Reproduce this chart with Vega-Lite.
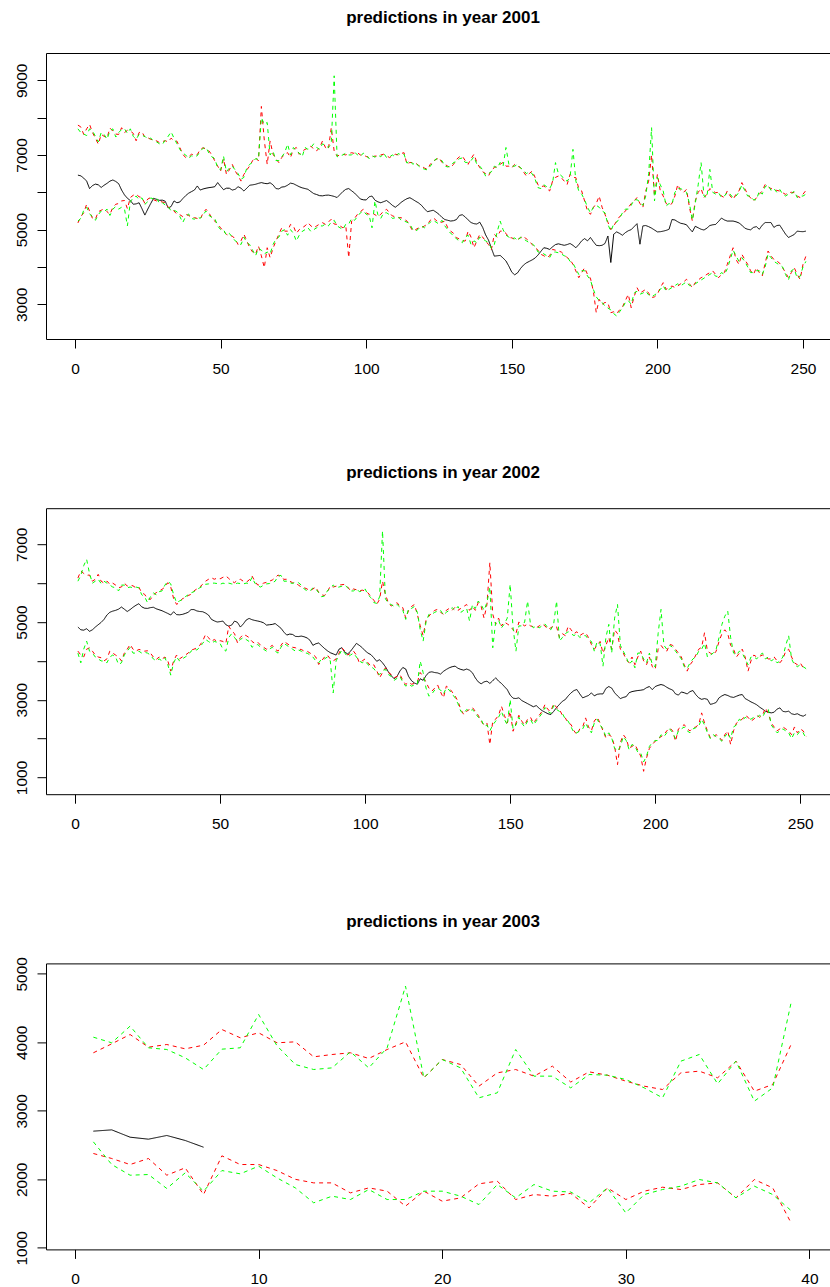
{
"$schema": "https://vega.github.io/schema/vega-lite/v6.json",
"padding": {"left": 13, "top": 9, "right": 0, "bottom": 0},
"autosize": {"type": "pad"},
"bounds": "flush",
"spacing": 169.2,
"config": {
  "view": {"stroke": null},
  "axis": {"grid": false, "domainColor": "#000000", "domainWidth": 1, "tickColor": "#000000", "tickWidth": 1, "labelColor": "#000000", "labelFont": "Liberation Sans", "labelFontSize": 15.5, "tickSize": 9},
  "title": {"font": "Liberation Sans", "fontSize": 17, "fontWeight": "bold", "color": "#000000", "offset": 26, "frame": "group", "anchor": "middle", "dx": 5}
},
"datasets": {
"p1": [
{"x":1,"a":6460,"ru":7800,"gu":7700,"rl":5180,"gl":5230},
{"x":2,"a":6440,"ru":7750,"gu":7600,"rl":5350,"gl":5300},
{"x":3,"a":6380,"ru":7550,"gu":7560,"rl":5450,"gl":5520},
{"x":4,"a":6300,"ru":7700,"gu":7520,"rl":5680,"gl":5600},
{"x":5,"a":6100,"ru":7820,"gu":7700,"rl":5500,"gl":5420},
{"x":6,"a":6180,"ru":7600,"gu":7650,"rl":5300,"gl":5350},
{"x":7,"a":6220,"ru":7450,"gu":7500,"rl":5280,"gl":5250},
{"x":8,"a":6200,"ru":7290,"gu":7350,"rl":5480,"gl":5400},
{"x":9,"a":6130,"ru":7550,"gu":7600,"rl":5520,"gl":5500},
{"x":10,"a":6190,"ru":7500,"gu":7550,"rl":5560,"gl":5480},
{"x":11,"a":6240,"ru":7460,"gu":7420,"rl":5480,"gl":5550},
{"x":12,"a":6300,"ru":7720,"gu":7650,"rl":5410,"gl":5380},
{"x":13,"a":6330,"ru":7640,"gu":7700,"rl":5600,"gl":5550},
{"x":14,"a":6290,"ru":7560,"gu":7480,"rl":5680,"gl":5620},
{"x":15,"a":6230,"ru":7550,"gu":7600,"rl":5700,"gl":5550},
{"x":16,"a":6060,"ru":7730,"gu":7680,"rl":5770,"gl":5600},
{"x":17,"a":5930,"ru":7600,"gu":7700,"rl":5780,"gl":5550},
{"x":18,"a":5840,"ru":7660,"gu":7580,"rl":5560,"gl":5100},
{"x":19,"a":5780,"ru":7640,"gu":7700,"rl":5860,"gl":5750},
{"x":20,"a":5680,"ru":7580,"gu":7500,"rl":5920,"gl":5850},
{"x":21,"a":5690,"ru":7380,"gu":7420,"rl":5950,"gl":5900},
{"x":22,"a":5720,"ru":7600,"gu":7550,"rl":5880,"gl":5800},
{"x":23,"a":5560,"ru":7620,"gu":7520,"rl":5860,"gl":5850},
{"x":24,"a":5390,"ru":7470,"gu":7500,"rl":5700,"gl":5680},
{"x":25,"a":5550,"ru":7460,"gu":7420,"rl":5820,"gl":5750},
{"x":26,"a":5700,"ru":7420,"gu":7450,"rl":5860,"gl":5850},
{"x":27,"a":5840,"ru":7400,"gu":7380,"rl":5800,"gl":5820},
{"x":28,"a":5810,"ru":7380,"gu":7350,"rl":5770,"gl":5850},
{"x":29,"a":5785,"ru":7330,"gu":7300,"rl":5760,"gl":5700},
{"x":30,"a":5790,"ru":7360,"gu":7280,"rl":5740,"gl":5720},
{"x":31,"a":5760,"ru":7380,"gu":7400,"rl":5720,"gl":5660},
{"x":32,"a":5580,"ru":7350,"gu":7500,"rl":5600,"gl":5620},
{"x":33,"a":5620,"ru":7450,"gu":7620,"rl":5560,"gl":5500},
{"x":34,"a":5770,"ru":7380,"gu":7450,"rl":5500,"gl":5520},
{"x":35,"a":5720,"ru":7370,"gu":7300,"rl":5410,"gl":5480},
{"x":36,"a":5740,"ru":7200,"gu":7150,"rl":5400,"gl":5350},
{"x":37,"a":5830,"ru":7020,"gu":7050,"rl":5350,"gl":5190},
{"x":38,"a":5910,"ru":6930,"gu":7000,"rl":5410,"gl":5350},
{"x":39,"a":5975,"ru":6950,"gu":6900,"rl":5380,"gl":5420},
{"x":40,"a":6018,"ru":7020,"gu":6980,"rl":5330,"gl":5300},
{"x":41,"a":6060,"ru":7000,"gu":6950,"rl":5320,"gl":5280},
{"x":42,"a":6170,"ru":7010,"gu":6980,"rl":5300,"gl":5350},
{"x":43,"a":6060,"ru":7150,"gu":7100,"rl":5280,"gl":5300},
{"x":44,"a":6090,"ru":7195,"gu":7180,"rl":5450,"gl":5400},
{"x":45,"a":6110,"ru":7150,"gu":7200,"rl":5545,"gl":5500},
{"x":46,"a":6125,"ru":7110,"gu":7050,"rl":5450,"gl":5380},
{"x":47,"a":6135,"ru":7000,"gu":6950,"rl":5300,"gl":5330},
{"x":48,"a":6150,"ru":6840,"gu":6900,"rl":5230,"gl":5300},
{"x":49,"a":6260,"ru":6700,"gu":6650,"rl":5150,"gl":5100},
{"x":50,"a":6160,"ru":6570,"gu":6600,"rl":5050,"gl":5000},
{"x":51,"a":6070,"ru":6900,"gu":6970,"rl":4950,"gl":5000},
{"x":52,"a":6110,"ru":6480,"gu":6550,"rl":4875,"gl":4850},
{"x":53,"a":6110,"ru":6600,"gu":6650,"rl":4830,"gl":4900},
{"x":54,"a":6060,"ru":6750,"gu":6700,"rl":4830,"gl":4800},
{"x":55,"a":6080,"ru":6570,"gu":6600,"rl":4750,"gl":4700},
{"x":56,"a":6150,"ru":6450,"gu":6500,"rl":4605,"gl":4650},
{"x":57,"a":6110,"ru":6300,"gu":6350,"rl":4700,"gl":4600},
{"x":58,"a":6035,"ru":6480,"gu":6400,"rl":4875,"gl":4800},
{"x":59,"a":6110,"ru":6600,"gu":6650,"rl":4700,"gl":4650},
{"x":60,"a":6190,"ru":6705,"gu":6750,"rl":4515,"gl":4600},
{"x":61,"a":6200,"ru":6850,"gu":6800,"rl":4400,"gl":4450},
{"x":62,"a":6215,"ru":6930,"gu":6900,"rl":4340,"gl":4300},
{"x":63,"a":6240,"ru":6840,"gu":6880,"rl":4560,"gl":4500},
{"x":64,"a":6260,"ru":8300,"gu":8000,"rl":4300,"gl":4450},
{"x":65,"a":6240,"ru":7400,"gu":7820,"rl":3980,"gl":4350},
{"x":66,"a":6230,"ru":6750,"gu":7870,"rl":4515,"gl":4400},
{"x":67,"a":6255,"ru":7375,"gu":7000,"rl":4250,"gl":4350},
{"x":68,"a":6200,"ru":7020,"gu":7100,"rl":4500,"gl":4600},
{"x":69,"a":6100,"ru":6900,"gu":6850,"rl":4695,"gl":4750},
{"x":70,"a":6090,"ru":6795,"gu":6850,"rl":4875,"gl":4800},
{"x":71,"a":6140,"ru":6930,"gu":6950,"rl":5050,"gl":4960},
{"x":72,"a":6150,"ru":7020,"gu":7060,"rl":4960,"gl":5000},
{"x":73,"a":6190,"ru":7062,"gu":7290,"rl":4960,"gl":4850},
{"x":74,"a":6245,"ru":6930,"gu":7000,"rl":5140,"gl":5000},
{"x":75,"a":6230,"ru":7150,"gu":7200,"rl":5100,"gl":4900},
{"x":76,"a":6190,"ru":7200,"gu":7100,"rl":4900,"gl":4695},
{"x":77,"a":6150,"ru":7020,"gu":7050,"rl":5000,"gl":4850},
{"x":78,"a":6120,"ru":7100,"gu":6950,"rl":5050,"gl":4950},
{"x":79,"a":6100,"ru":7150,"gu":7200,"rl":5100,"gl":5000},
{"x":80,"a":6080,"ru":7180,"gu":7150,"rl":5187,"gl":5050},
{"x":81,"a":6020,"ru":7240,"gu":7200,"rl":5100,"gl":4950},
{"x":82,"a":5965,"ru":7150,"gu":7300,"rl":5050,"gl":5000},
{"x":83,"a":5940,"ru":7110,"gu":7200,"rl":5100,"gl":5050},
{"x":84,"a":5910,"ru":7200,"gu":7150,"rl":5150,"gl":5100},
{"x":85,"a":5905,"ru":7375,"gu":7300,"rl":5187,"gl":5100},
{"x":86,"a":5920,"ru":7200,"gu":7250,"rl":5140,"gl":5150},
{"x":87,"a":5925,"ru":7150,"gu":7200,"rl":5200,"gl":5100},
{"x":88,"a":5910,"ru":7730,"gu":7300,"rl":5280,"gl":5200},
{"x":89,"a":5890,"ru":7100,"gu":9120,"rl":5150,"gl":5250},
{"x":90,"a":5860,"ru":6970,"gu":6950,"rl":5140,"gl":5100},
{"x":91,"a":5940,"ru":7000,"gu":6980,"rl":5100,"gl":5050},
{"x":92,"a":6020,"ru":7020,"gu":7000,"rl":5050,"gl":5000},
{"x":93,"a":6080,"ru":7000,"gu":7050,"rl":5100,"gl":5150},
{"x":94,"a":6100,"ru":7040,"gu":7000,"rl":4250,"gl":5150},
{"x":95,"a":6040,"ru":7060,"gu":7000,"rl":5230,"gl":5300},
{"x":96,"a":5980,"ru":7040,"gu":7080,"rl":5300,"gl":5250},
{"x":97,"a":5900,"ru":7060,"gu":7000,"rl":5410,"gl":5350},
{"x":98,"a":5820,"ru":7000,"gu":6960,"rl":5480,"gl":5450},
{"x":99,"a":5800,"ru":7000,"gu":7050,"rl":5545,"gl":5500},
{"x":100,"a":5795,"ru":6960,"gu":7000,"rl":5450,"gl":5410},
{"x":101,"a":5880,"ru":6930,"gu":6900,"rl":5410,"gl":5380},
{"x":102,"a":5900,"ru":6950,"gu":6980,"rl":5450,"gl":5050},
{"x":103,"a":5790,"ru":6970,"gu":6940,"rl":5400,"gl":5770},
{"x":104,"a":5745,"ru":6970,"gu":7000,"rl":5350,"gl":5400},
{"x":105,"a":5720,"ru":7000,"gu":6950,"rl":5410,"gl":5300},
{"x":106,"a":5750,"ru":7020,"gu":7050,"rl":5500,"gl":5450},
{"x":107,"a":5780,"ru":6980,"gu":6930,"rl":5545,"gl":5450},
{"x":108,"a":5720,"ru":6930,"gu":6950,"rl":5450,"gl":5400},
{"x":109,"a":5650,"ru":6980,"gu":7000,"rl":5365,"gl":5300},
{"x":110,"a":5600,"ru":7020,"gu":6950,"rl":5350,"gl":5320},
{"x":111,"a":5660,"ru":7000,"gu":7040,"rl":5320,"gl":5350},
{"x":112,"a":5730,"ru":7040,"gu":7000,"rl":5320,"gl":5250},
{"x":113,"a":5785,"ru":7060,"gu":7020,"rl":5280,"gl":5230},
{"x":114,"a":5830,"ru":6750,"gu":6780,"rl":5230,"gl":5200},
{"x":115,"a":5855,"ru":6800,"gu":6850,"rl":5100,"gl":5150},
{"x":116,"a":5810,"ru":6795,"gu":6750,"rl":4960,"gl":5000},
{"x":117,"a":5760,"ru":6780,"gu":6800,"rl":5000,"gl":4960},
{"x":118,"a":5715,"ru":6720,"gu":6700,"rl":5050,"gl":5020},
{"x":119,"a":5650,"ru":6700,"gu":6650,"rl":5050,"gl":5100},
{"x":120,"a":5560,"ru":6650,"gu":6620,"rl":5100,"gl":5050},
{"x":121,"a":5480,"ru":6615,"gu":6600,"rl":5140,"gl":5120},
{"x":122,"a":5500,"ru":6750,"gu":6700,"rl":5250,"gl":5200},
{"x":123,"a":5520,"ru":6840,"gu":6800,"rl":5320,"gl":5250},
{"x":124,"a":5470,"ru":6880,"gu":6900,"rl":5250,"gl":5200},
{"x":125,"a":5410,"ru":6930,"gu":6850,"rl":5190,"gl":5150},
{"x":126,"a":5330,"ru":6800,"gu":6850,"rl":5200,"gl":5250},
{"x":127,"a":5270,"ru":6750,"gu":6700,"rl":5230,"gl":5100},
{"x":128,"a":5250,"ru":6700,"gu":6680,"rl":5050,"gl":5000},
{"x":129,"a":5230,"ru":6660,"gu":6700,"rl":4960,"gl":4900},
{"x":130,"a":5240,"ru":6750,"gu":6800,"rl":4900,"gl":4850},
{"x":131,"a":5270,"ru":6880,"gu":6820,"rl":4785,"gl":4750},
{"x":132,"a":5380,"ru":6950,"gu":6900,"rl":4750,"gl":4700},
{"x":133,"a":5400,"ru":6970,"gu":6920,"rl":4700,"gl":4650},
{"x":134,"a":5340,"ru":6850,"gu":6800,"rl":4695,"gl":4800},
{"x":135,"a":5260,"ru":6750,"gu":6800,"rl":4960,"gl":4850},
{"x":136,"a":5190,"ru":6900,"gu":6850,"rl":4800,"gl":4600},
{"x":137,"a":5160,"ru":7020,"gu":6950,"rl":4515,"gl":4700},
{"x":138,"a":5150,"ru":6800,"gu":6750,"rl":4700,"gl":4650},
{"x":139,"a":5200,"ru":6660,"gu":6700,"rl":4875,"gl":4800},
{"x":140,"a":5060,"ru":6550,"gu":6600,"rl":4800,"gl":4750},
{"x":141,"a":4860,"ru":6500,"gu":6435,"rl":4695,"gl":4700},
{"x":142,"a":4720,"ru":6435,"gu":6500,"rl":4600,"gl":4650},
{"x":143,"a":4500,"ru":6600,"gu":6550,"rl":4470,"gl":4500},
{"x":144,"a":4290,"ru":6660,"gu":6700,"rl":4875,"gl":4600},
{"x":145,"a":4300,"ru":6700,"gu":6650,"rl":4800,"gl":4950},
{"x":146,"a":4310,"ru":6750,"gu":6800,"rl":4960,"gl":5230},
{"x":147,"a":4240,"ru":6800,"gu":6700,"rl":4960,"gl":5000},
{"x":148,"a":4160,"ru":6700,"gu":7200,"rl":4900,"gl":4850},
{"x":149,"a":4020,"ru":6700,"gu":6750,"rl":4785,"gl":4800},
{"x":150,"a":3860,"ru":6650,"gu":6700,"rl":4780,"gl":4750},
{"x":151,"a":3790,"ru":6750,"gu":6700,"rl":4740,"gl":4780},
{"x":152,"a":3845,"ru":6700,"gu":6750,"rl":4740,"gl":4700},
{"x":153,"a":3960,"ru":6660,"gu":6650,"rl":4780,"gl":4800},
{"x":154,"a":4050,"ru":6550,"gu":6600,"rl":4830,"gl":4750},
{"x":155,"a":4110,"ru":6435,"gu":6500,"rl":4750,"gl":4700},
{"x":156,"a":4150,"ru":6500,"gu":6550,"rl":4695,"gl":4650},
{"x":157,"a":4190,"ru":6570,"gu":6500,"rl":4600,"gl":4620},
{"x":158,"a":4240,"ru":6400,"gu":6350,"rl":4515,"gl":4550},
{"x":159,"a":4320,"ru":6200,"gu":6125,"rl":4450,"gl":4400},
{"x":160,"a":4420,"ru":6150,"gu":6100,"rl":4340,"gl":4400},
{"x":161,"a":4515,"ru":6170,"gu":6200,"rl":4300,"gl":4350},
{"x":162,"a":4500,"ru":6100,"gu":6150,"rl":4250,"gl":4300},
{"x":163,"a":4470,"ru":6035,"gu":6100,"rl":4300,"gl":4250},
{"x":164,"a":4540,"ru":6300,"gu":6250,"rl":4470,"gl":4400},
{"x":165,"a":4600,"ru":6400,"gu":6795,"rl":4450,"gl":4400},
{"x":166,"a":4620,"ru":6435,"gu":6500,"rl":4430,"gl":4380},
{"x":167,"a":4600,"ru":6392,"gu":6450,"rl":4400,"gl":4350},
{"x":168,"a":4580,"ru":6300,"gu":6350,"rl":4330,"gl":4300},
{"x":169,"a":4600,"ru":6210,"gu":6300,"rl":4250,"gl":4280},
{"x":170,"a":4630,"ru":6480,"gu":6400,"rl":4200,"gl":4150},
{"x":171,"a":4580,"ru":6400,"gu":7150,"rl":4070,"gl":4100},
{"x":172,"a":4515,"ru":6392,"gu":6300,"rl":3893,"gl":3950},
{"x":173,"a":4600,"ru":6100,"gu":6035,"rl":3713,"gl":3800},
{"x":174,"a":4700,"ru":6035,"gu":5950,"rl":3850,"gl":3900},
{"x":175,"a":4760,"ru":5767,"gu":5800,"rl":3980,"gl":3900},
{"x":176,"a":4700,"ru":5500,"gu":5600,"rl":3800,"gl":3758},
{"x":177,"a":4790,"ru":5410,"gu":5450,"rl":3700,"gl":3650},
{"x":178,"a":4680,"ru":5590,"gu":5600,"rl":3355,"gl":3400},
{"x":179,"a":4580,"ru":5700,"gu":5650,"rl":2776,"gl":3200},
{"x":180,"a":4570,"ru":5900,"gu":5600,"rl":3133,"gl":3100},
{"x":181,"a":4580,"ru":5600,"gu":5500,"rl":3000,"gl":3050},
{"x":182,"a":4630,"ru":5410,"gu":5450,"rl":3050,"gl":2950},
{"x":183,"a":4830,"ru":5200,"gu":5140,"rl":3040,"gl":2900},
{"x":184,"a":4120,"ru":5000,"gu":4960,"rl":2776,"gl":2850},
{"x":185,"a":4880,"ru":5100,"gu":5150,"rl":2800,"gl":2750},
{"x":186,"a":4940,"ru":5230,"gu":5200,"rl":2750,"gl":2687},
{"x":187,"a":4900,"ru":5350,"gu":5300,"rl":2850,"gl":2800},
{"x":188,"a":4850,"ru":5410,"gu":5450,"rl":2930,"gl":2900},
{"x":189,"a":4920,"ru":5500,"gu":5550,"rl":3100,"gl":3050},
{"x":190,"a":4970,"ru":5590,"gu":5550,"rl":3267,"gl":3100},
{"x":191,"a":5000,"ru":5700,"gu":5650,"rl":2910,"gl":3000},
{"x":192,"a":5080,"ru":5767,"gu":5800,"rl":3200,"gl":3300},
{"x":193,"a":5160,"ru":5860,"gu":5800,"rl":3445,"gl":3350},
{"x":194,"a":4610,"ru":5700,"gu":5750,"rl":3300,"gl":3270},
{"x":195,"a":5100,"ru":5590,"gu":5650,"rl":3350,"gl":3300},
{"x":196,"a":5110,"ru":6035,"gu":5900,"rl":3400,"gl":3350},
{"x":197,"a":5080,"ru":6300,"gu":6500,"rl":3300,"gl":3250},
{"x":198,"a":5040,"ru":7000,"gu":7730,"rl":3178,"gl":3200},
{"x":199,"a":4990,"ru":5900,"gu":5767,"rl":3200,"gl":3250},
{"x":200,"a":4940,"ru":6480,"gu":6400,"rl":3267,"gl":3300},
{"x":201,"a":4945,"ru":6035,"gu":6200,"rl":3450,"gl":3400},
{"x":202,"a":4960,"ru":5900,"gu":6035,"rl":3580,"gl":3500},
{"x":203,"a":4980,"ru":5700,"gu":5635,"rl":3400,"gl":3355},
{"x":204,"a":5010,"ru":5650,"gu":5700,"rl":3450,"gl":3400},
{"x":205,"a":5270,"ru":5700,"gu":5680,"rl":3490,"gl":3450},
{"x":206,"a":5260,"ru":5900,"gu":6000,"rl":3450,"gl":3500},
{"x":207,"a":5210,"ru":6210,"gu":6100,"rl":3490,"gl":3550},
{"x":208,"a":5170,"ru":6035,"gu":6100,"rl":3550,"gl":3490},
{"x":209,"a":5155,"ru":6000,"gu":6050,"rl":3600,"gl":3550},
{"x":210,"a":5130,"ru":6080,"gu":6000,"rl":3670,"gl":3600},
{"x":211,"a":5030,"ru":5600,"gu":5700,"rl":3550,"gl":3500},
{"x":212,"a":4940,"ru":5230,"gu":5250,"rl":3445,"gl":3500},
{"x":213,"a":5090,"ru":5770,"gu":5700,"rl":3580,"gl":3550},
{"x":214,"a":5050,"ru":6000,"gu":6200,"rl":3650,"gl":3600},
{"x":215,"a":5010,"ru":6100,"gu":6795,"rl":3713,"gl":3650},
{"x":216,"a":4990,"ru":5860,"gu":5900,"rl":3750,"gl":3700},
{"x":217,"a":5040,"ru":5950,"gu":5860,"rl":3803,"gl":3750},
{"x":218,"a":5110,"ru":6100,"gu":6615,"rl":3850,"gl":3800},
{"x":219,"a":5130,"ru":6035,"gu":6000,"rl":3893,"gl":3850},
{"x":220,"a":5140,"ru":5990,"gu":5950,"rl":3800,"gl":3750},
{"x":221,"a":5220,"ru":6000,"gu":5990,"rl":3713,"gl":3750},
{"x":222,"a":5310,"ru":5900,"gu":5860,"rl":3800,"gl":3850},
{"x":223,"a":5260,"ru":5860,"gu":5900,"rl":3850,"gl":3800},
{"x":224,"a":5230,"ru":6035,"gu":6000,"rl":4070,"gl":3950},
{"x":225,"a":5230,"ru":5900,"gu":5950,"rl":4300,"gl":4200},
{"x":226,"a":5230,"ru":5810,"gu":5850,"rl":4515,"gl":4450},
{"x":227,"a":5210,"ru":5950,"gu":5900,"rl":4200,"gl":4300},
{"x":228,"a":5180,"ru":6035,"gu":6000,"rl":4070,"gl":4150},
{"x":229,"a":5120,"ru":6260,"gu":6200,"rl":4340,"gl":4250},
{"x":230,"a":5040,"ru":6100,"gu":6050,"rl":4200,"gl":4150},
{"x":231,"a":5010,"ru":5945,"gu":5900,"rl":4070,"gl":4000},
{"x":232,"a":4995,"ru":5850,"gu":5900,"rl":3900,"gl":3850},
{"x":233,"a":5060,"ru":5767,"gu":5800,"rl":3803,"gl":3850},
{"x":234,"a":5080,"ru":5850,"gu":5800,"rl":3980,"gl":3900},
{"x":235,"a":5010,"ru":5950,"gu":6035,"rl":3850,"gl":3900},
{"x":236,"a":5120,"ru":6035,"gu":5950,"rl":3758,"gl":3800},
{"x":237,"a":5190,"ru":6210,"gu":6150,"rl":4100,"gl":4000},
{"x":238,"a":5190,"ru":6150,"gu":6200,"rl":4428,"gl":4350},
{"x":239,"a":5190,"ru":6100,"gu":6050,"rl":4300,"gl":4250},
{"x":240,"a":5060,"ru":6080,"gu":6100,"rl":4200,"gl":4150},
{"x":241,"a":5110,"ru":6050,"gu":6000,"rl":4160,"gl":4100},
{"x":242,"a":5120,"ru":6035,"gu":6080,"rl":4100,"gl":4050},
{"x":243,"a":5000,"ru":5990,"gu":5950,"rl":3980,"gl":4000},
{"x":244,"a":4880,"ru":5945,"gu":5900,"rl":3850,"gl":3800},
{"x":245,"a":4790,"ru":5990,"gu":5950,"rl":3713,"gl":3650},
{"x":246,"a":4830,"ru":6000,"gu":5950,"rl":3850,"gl":3900},
{"x":247,"a":4870,"ru":5990,"gu":6035,"rl":3980,"gl":3950},
{"x":248,"a":4960,"ru":5900,"gu":5860,"rl":3800,"gl":3700},
{"x":249,"a":4950,"ru":5860,"gu":5900,"rl":3670,"gl":3750},
{"x":250,"a":4945,"ru":5950,"gu":5900,"rl":4070,"gl":4000},
{"x":251,"a":4960,"ru":6050,"gu":5950,"rl":4294,"gl":4150}
],
"p2": [
{"x":1,"a":4870,"ru":6130,"gu":6050,"rl":4251,"gl":4200},
{"x":2,"a":4800,"ru":6313,"gu":6200,"rl":4150,"gl":3950},
{"x":3,"a":4790,"ru":6250,"gu":6450,"rl":4100,"gl":4300},
{"x":4,"a":4827,"ru":6200,"gu":6613,"rl":4300,"gl":4509},
{"x":5,"a":4760,"ru":6210,"gu":6250,"rl":4337,"gl":4250},
{"x":6,"a":4800,"ru":6050,"gu":6000,"rl":4250,"gl":4200},
{"x":7,"a":4870,"ru":6100,"gu":6050,"rl":4148,"gl":4100},
{"x":8,"a":4930,"ru":6227,"gu":6100,"rl":4100,"gl":4050},
{"x":9,"a":4990,"ru":6050,"gu":5990,"rl":4080,"gl":4000},
{"x":10,"a":5067,"ru":6000,"gu":6050,"rl":4000,"gl":3993},
{"x":11,"a":5180,"ru":6055,"gu":6000,"rl":4050,"gl":3950},
{"x":12,"a":5250,"ru":5970,"gu":5950,"rl":4251,"gl":4100},
{"x":13,"a":5280,"ru":6000,"gu":5900,"rl":4200,"gl":4150},
{"x":14,"a":5300,"ru":5950,"gu":5880,"rl":4150,"gl":4100},
{"x":15,"a":5330,"ru":5883,"gu":5800,"rl":4100,"gl":3907},
{"x":16,"a":5385,"ru":5900,"gu":5950,"rl":4000,"gl":3950},
{"x":17,"a":5330,"ru":6000,"gu":5950,"rl":4200,"gl":4150},
{"x":18,"a":5270,"ru":5926,"gu":5880,"rl":4300,"gl":4250},
{"x":19,"a":5320,"ru":5950,"gu":5900,"rl":4423,"gl":4350},
{"x":20,"a":5380,"ru":5930,"gu":5880,"rl":4300,"gl":4200},
{"x":21,"a":5430,"ru":5880,"gu":5900,"rl":4250,"gl":4200},
{"x":22,"a":5471,"ru":5900,"gu":5880,"rl":4294,"gl":4250},
{"x":23,"a":5390,"ru":5750,"gu":5700,"rl":4280,"gl":4200},
{"x":24,"a":5355,"ru":5712,"gu":5650,"rl":4250,"gl":4220},
{"x":25,"a":5350,"ru":5600,"gu":5497,"rl":4260,"gl":4200},
{"x":26,"a":5370,"ru":5580,"gu":5650,"rl":4200,"gl":4150},
{"x":27,"a":5380,"ru":5700,"gu":5750,"rl":4100,"gl":4050},
{"x":28,"a":5340,"ru":5755,"gu":5700,"rl":4036,"gl":4000},
{"x":29,"a":5315,"ru":5800,"gu":5780,"rl":4100,"gl":4050},
{"x":30,"a":5290,"ru":5840,"gu":5800,"rl":4050,"gl":4000},
{"x":31,"a":5255,"ru":5900,"gu":5950,"rl":4100,"gl":4080},
{"x":32,"a":5220,"ru":6012,"gu":6050,"rl":4000,"gl":3900},
{"x":33,"a":5180,"ru":5900,"gu":5980,"rl":3736,"gl":3633},
{"x":34,"a":5265,"ru":5600,"gu":5700,"rl":4000,"gl":3950},
{"x":35,"a":5190,"ru":5454,"gu":5500,"rl":4150,"gl":4100},
{"x":36,"a":5185,"ru":5500,"gu":5540,"rl":4050,"gl":4000},
{"x":37,"a":5196,"ru":5600,"gu":5580,"rl":4100,"gl":4050},
{"x":38,"a":5220,"ru":5626,"gu":5650,"rl":4150,"gl":4100},
{"x":39,"a":5250,"ru":5680,"gu":5700,"rl":4200,"gl":4150},
{"x":40,"a":5320,"ru":5712,"gu":5750,"rl":4280,"gl":4250},
{"x":41,"a":5320,"ru":5800,"gu":5780,"rl":4300,"gl":4300},
{"x":42,"a":5285,"ru":5850,"gu":5840,"rl":4337,"gl":4280},
{"x":43,"a":5270,"ru":5900,"gu":5880,"rl":4400,"gl":4350},
{"x":44,"a":5265,"ru":5970,"gu":5920,"rl":4509,"gl":4450},
{"x":45,"a":5230,"ru":6050,"gu":5970,"rl":4681,"gl":4550},
{"x":46,"a":5180,"ru":6098,"gu":5980,"rl":4600,"gl":4500},
{"x":47,"a":5070,"ru":6141,"gu":6000,"rl":4500,"gl":4450},
{"x":48,"a":5030,"ru":6100,"gu":6000,"rl":4550,"gl":4500},
{"x":49,"a":5000,"ru":6130,"gu":5990,"rl":4500,"gl":4480},
{"x":50,"a":5010,"ru":6110,"gu":5970,"rl":4520,"gl":4450},
{"x":51,"a":5024,"ru":6150,"gu":6000,"rl":4500,"gl":4300},
{"x":52,"a":4930,"ru":6184,"gu":5980,"rl":4450,"gl":4251},
{"x":53,"a":4895,"ru":6120,"gu":6000,"rl":4895,"gl":4600},
{"x":54,"a":4921,"ru":6050,"gu":5980,"rl":4767,"gl":4700},
{"x":55,"a":5024,"ru":6012,"gu":5970,"rl":4700,"gl":4600},
{"x":56,"a":4990,"ru":6080,"gu":6000,"rl":4466,"gl":4500},
{"x":57,"a":4870,"ru":6100,"gu":5990,"rl":4600,"gl":4550},
{"x":58,"a":4950,"ru":6050,"gu":5980,"rl":4681,"gl":4600},
{"x":59,"a":5050,"ru":6020,"gu":6000,"rl":4650,"gl":4550},
{"x":60,"a":5093,"ru":6080,"gu":5990,"rl":4600,"gl":4500},
{"x":61,"a":5060,"ru":6184,"gu":6150,"rl":4500,"gl":4350},
{"x":62,"a":5040,"ru":6050,"gu":6000,"rl":4450,"gl":4400},
{"x":63,"a":5025,"ru":5950,"gu":5926,"rl":4480,"gl":4420},
{"x":64,"a":5007,"ru":5960,"gu":5900,"rl":4400,"gl":4350},
{"x":65,"a":4980,"ru":6000,"gu":5950,"rl":4350,"gl":4300},
{"x":66,"a":4920,"ru":6020,"gu":5980,"rl":4300,"gl":4250},
{"x":67,"a":4930,"ru":6050,"gu":5990,"rl":4350,"gl":4300},
{"x":68,"a":4938,"ru":6080,"gu":6010,"rl":4400,"gl":4350},
{"x":69,"a":4960,"ru":6140,"gu":6050,"rl":4300,"gl":4250},
{"x":70,"a":4900,"ru":6210,"gu":6184,"rl":4251,"gl":4200},
{"x":71,"a":4840,"ru":6150,"gu":6200,"rl":4400,"gl":4350},
{"x":72,"a":4740,"ru":6098,"gu":6050,"rl":4500,"gl":4450},
{"x":73,"a":4664,"ru":6100,"gu":6050,"rl":4450,"gl":4400},
{"x":74,"a":4690,"ru":6050,"gu":6012,"rl":4400,"gl":4350},
{"x":75,"a":4680,"ru":6012,"gu":5990,"rl":4350,"gl":4300},
{"x":76,"a":4630,"ru":6000,"gu":6030,"rl":4337,"gl":4250},
{"x":77,"a":4625,"ru":5950,"gu":6012,"rl":4300,"gl":4280},
{"x":78,"a":4638,"ru":5900,"gu":5950,"rl":4294,"gl":4250},
{"x":79,"a":4620,"ru":5883,"gu":5850,"rl":4250,"gl":4200},
{"x":80,"a":4590,"ru":5850,"gu":5800,"rl":4251,"gl":4200},
{"x":81,"a":4530,"ru":5800,"gu":5797,"rl":4200,"gl":4150},
{"x":82,"a":4400,"ru":5850,"gu":5880,"rl":4165,"gl":4100},
{"x":83,"a":4440,"ru":5900,"gu":5850,"rl":4100,"gl":4000},
{"x":84,"a":4460,"ru":5760,"gu":5755,"rl":3907,"gl":3950},
{"x":85,"a":4390,"ru":5700,"gu":5650,"rl":4000,"gl":4050},
{"x":86,"a":4320,"ru":5680,"gu":5669,"rl":4100,"gl":4050},
{"x":87,"a":4260,"ru":5780,"gu":5800,"rl":4150,"gl":4100},
{"x":88,"a":4210,"ru":5926,"gu":5880,"rl":4050,"gl":4000},
{"x":89,"a":4180,"ru":5900,"gu":5950,"rl":4000,"gl":3177},
{"x":90,"a":4150,"ru":5920,"gu":5880,"rl":4050,"gl":4000},
{"x":91,"a":4300,"ru":5950,"gu":5900,"rl":4200,"gl":4150},
{"x":92,"a":4340,"ru":5960,"gu":5920,"rl":4337,"gl":4280},
{"x":93,"a":4220,"ru":5970,"gu":5950,"rl":4250,"gl":4200},
{"x":94,"a":4180,"ru":5900,"gu":5880,"rl":4150,"gl":4100},
{"x":95,"a":4250,"ru":5800,"gu":5797,"rl":4200,"gl":4150},
{"x":96,"a":4350,"ru":5850,"gu":5800,"rl":4250,"gl":4200},
{"x":97,"a":4450,"ru":5830,"gu":5860,"rl":4150,"gl":4100},
{"x":98,"a":4400,"ru":5800,"gu":5780,"rl":3950,"gl":4000},
{"x":99,"a":4340,"ru":5820,"gu":5800,"rl":4000,"gl":3950},
{"x":100,"a":4260,"ru":5800,"gu":5850,"rl":4050,"gl":4000},
{"x":101,"a":4200,"ru":5750,"gu":5700,"rl":3950,"gl":3900},
{"x":102,"a":4160,"ru":5650,"gu":5626,"rl":3865,"gl":3850},
{"x":103,"a":4080,"ru":5560,"gu":5500,"rl":3900,"gl":3800},
{"x":104,"a":3990,"ru":5454,"gu":5480,"rl":3750,"gl":3700},
{"x":105,"a":4030,"ru":5583,"gu":5650,"rl":3564,"gl":3650},
{"x":106,"a":3950,"ru":6050,"gu":7344,"rl":3700,"gl":3750},
{"x":107,"a":3850,"ru":5700,"gu":5600,"rl":3822,"gl":3780},
{"x":108,"a":3720,"ru":5500,"gu":5480,"rl":3700,"gl":3650},
{"x":109,"a":3620,"ru":5411,"gu":5450,"rl":3650,"gl":3600},
{"x":110,"a":3540,"ru":5450,"gu":5400,"rl":3564,"gl":3500},
{"x":111,"a":3600,"ru":5500,"gu":5454,"rl":3600,"gl":3550},
{"x":112,"a":3740,"ru":5400,"gu":5380,"rl":3650,"gl":3600},
{"x":113,"a":3830,"ru":5368,"gu":5300,"rl":3500,"gl":3450},
{"x":114,"a":3790,"ru":5100,"gu":5067,"rl":3392,"gl":3350},
{"x":115,"a":3600,"ru":5300,"gu":5350,"rl":3450,"gl":3400},
{"x":116,"a":3490,"ru":5400,"gu":5350,"rl":3400,"gl":3350},
{"x":117,"a":3430,"ru":5450,"gu":5400,"rl":3420,"gl":3380},
{"x":118,"a":3400,"ru":5196,"gu":5250,"rl":3450,"gl":3400},
{"x":119,"a":3540,"ru":4900,"gu":4800,"rl":3700,"gl":3993},
{"x":120,"a":3500,"ru":4650,"gu":4509,"rl":3600,"gl":3700},
{"x":121,"a":3620,"ru":5050,"gu":5000,"rl":3450,"gl":3300},
{"x":122,"a":3705,"ru":5150,"gu":5200,"rl":3300,"gl":3092},
{"x":123,"a":3719,"ru":5240,"gu":5200,"rl":3220,"gl":3150},
{"x":124,"a":3700,"ru":5300,"gu":5250,"rl":3300,"gl":3250},
{"x":125,"a":3690,"ru":5325,"gu":5280,"rl":3380,"gl":3300},
{"x":126,"a":3660,"ru":5250,"gu":5300,"rl":3200,"gl":3250},
{"x":127,"a":3730,"ru":5200,"gu":5180,"rl":3049,"gl":3150},
{"x":128,"a":3780,"ru":5300,"gu":5250,"rl":3350,"gl":3300},
{"x":129,"a":3822,"ru":5350,"gu":5300,"rl":3300,"gl":3250},
{"x":130,"a":3850,"ru":5300,"gu":5370,"rl":3200,"gl":3150},
{"x":131,"a":3865,"ru":5380,"gu":5300,"rl":3100,"gl":3050},
{"x":132,"a":3810,"ru":5300,"gu":5400,"rl":2963,"gl":2900},
{"x":133,"a":3780,"ru":5350,"gu":5250,"rl":2750,"gl":2700},
{"x":134,"a":3762,"ru":5400,"gu":5300,"rl":2619,"gl":2650},
{"x":135,"a":3790,"ru":5450,"gu":5350,"rl":2705,"gl":2750},
{"x":136,"a":3760,"ru":5300,"gu":5024,"rl":2750,"gl":2700},
{"x":137,"a":3693,"ru":5400,"gu":5450,"rl":2800,"gl":2750},
{"x":138,"a":3560,"ru":5300,"gu":5350,"rl":2700,"gl":2650},
{"x":139,"a":3460,"ru":5500,"gu":5540,"rl":2600,"gl":2550},
{"x":140,"a":3410,"ru":5400,"gu":5450,"rl":2447,"gl":2500},
{"x":141,"a":3460,"ru":5100,"gu":5300,"rl":2350,"gl":2318},
{"x":142,"a":3478,"ru":5450,"gu":5500,"rl":2400,"gl":2350},
{"x":143,"a":3420,"ru":6528,"gu":5900,"rl":1846,"gl":2200},
{"x":144,"a":3490,"ru":5200,"gu":4337,"rl":2450,"gl":2350},
{"x":145,"a":3564,"ru":4939,"gu":5000,"rl":2500,"gl":2450},
{"x":146,"a":3480,"ru":5100,"gu":5050,"rl":2600,"gl":2550},
{"x":147,"a":3420,"ru":4900,"gu":4850,"rl":2834,"gl":2700},
{"x":148,"a":3340,"ru":5000,"gu":4950,"rl":2600,"gl":2500},
{"x":149,"a":3260,"ru":4950,"gu":5100,"rl":2400,"gl":2350},
{"x":150,"a":3120,"ru":4900,"gu":5970,"rl":2700,"gl":3005},
{"x":151,"a":3040,"ru":4800,"gu":4850,"rl":2190,"gl":2250},
{"x":152,"a":3031,"ru":4700,"gu":4251,"rl":2400,"gl":2350},
{"x":153,"a":3050,"ru":5000,"gu":4900,"rl":2600,"gl":2550},
{"x":154,"a":2980,"ru":4950,"gu":4900,"rl":2450,"gl":2400},
{"x":155,"a":2940,"ru":4900,"gu":5000,"rl":2350,"gl":2300},
{"x":156,"a":2900,"ru":4950,"gu":5540,"rl":2500,"gl":2450},
{"x":157,"a":2860,"ru":4900,"gu":4950,"rl":2550,"gl":2500},
{"x":158,"a":2820,"ru":4880,"gu":4850,"rl":2400,"gl":2350},
{"x":159,"a":2850,"ru":4850,"gu":4900,"rl":2500,"gl":2450},
{"x":160,"a":2780,"ru":4900,"gu":4850,"rl":2600,"gl":2550},
{"x":161,"a":2720,"ru":4950,"gu":4900,"rl":2700,"gl":2650},
{"x":162,"a":2680,"ru":4900,"gu":4950,"rl":2877,"gl":2800},
{"x":163,"a":2640,"ru":4810,"gu":4850,"rl":2750,"gl":2700},
{"x":164,"a":2619,"ru":4850,"gu":4800,"rl":2700,"gl":2650},
{"x":165,"a":2700,"ru":4900,"gu":4950,"rl":2900,"gl":2850},
{"x":166,"a":2800,"ru":4880,"gu":5540,"rl":2800,"gl":2750},
{"x":167,"a":2880,"ru":4600,"gu":4509,"rl":2750,"gl":2700},
{"x":168,"a":2960,"ru":4700,"gu":4600,"rl":2600,"gl":2650},
{"x":169,"a":3005,"ru":4650,"gu":4700,"rl":2533,"gl":2500},
{"x":170,"a":3100,"ru":4895,"gu":4750,"rl":2400,"gl":2450},
{"x":171,"a":3177,"ru":4800,"gu":4700,"rl":2361,"gl":2300},
{"x":172,"a":3237,"ru":4700,"gu":4650,"rl":2200,"gl":2150},
{"x":173,"a":3263,"ru":4750,"gu":4700,"rl":2104,"gl":2150},
{"x":174,"a":3150,"ru":4650,"gu":4600,"rl":2250,"gl":2200},
{"x":175,"a":3048,"ru":4700,"gu":4650,"rl":2300,"gl":2250},
{"x":176,"a":3080,"ru":4724,"gu":4650,"rl":2533,"gl":2400},
{"x":177,"a":3110,"ru":4600,"gu":4550,"rl":2300,"gl":2250},
{"x":178,"a":3177,"ru":4423,"gu":4500,"rl":2200,"gl":2150},
{"x":179,"a":3100,"ru":4300,"gu":4251,"rl":2450,"gl":2400},
{"x":180,"a":3140,"ru":4400,"gu":4500,"rl":2550,"gl":2500},
{"x":181,"a":3151,"ru":4500,"gu":4450,"rl":2400,"gl":2350},
{"x":182,"a":3150,"ru":4200,"gu":3865,"rl":2200,"gl":2250},
{"x":183,"a":3290,"ru":4400,"gu":4600,"rl":2018,"gl":2050},
{"x":184,"a":3340,"ru":4600,"gu":4939,"rl":2100,"gl":2150},
{"x":185,"a":3300,"ru":4300,"gu":4200,"rl":2050,"gl":2018},
{"x":186,"a":3180,"ru":4800,"gu":5100,"rl":1800,"gl":1750},
{"x":187,"a":3100,"ru":4700,"gu":5454,"rl":1330,"gl":1674},
{"x":188,"a":3031,"ru":4300,"gu":4400,"rl":1900,"gl":1800},
{"x":189,"a":3060,"ru":4200,"gu":4250,"rl":2100,"gl":2050},
{"x":190,"a":3080,"ru":4036,"gu":4100,"rl":2000,"gl":1950},
{"x":191,"a":3180,"ru":3950,"gu":3907,"rl":1750,"gl":1717},
{"x":192,"a":3210,"ru":4100,"gu":4000,"rl":1800,"gl":1850},
{"x":193,"a":3225,"ru":3900,"gu":3822,"rl":1850,"gl":1800},
{"x":194,"a":3237,"ru":4100,"gu":4200,"rl":1700,"gl":1650},
{"x":195,"a":3245,"ru":4251,"gu":4200,"rl":1550,"gl":1631},
{"x":196,"a":3260,"ru":4000,"gu":4050,"rl":1159,"gl":1400},
{"x":197,"a":3310,"ru":3900,"gu":3950,"rl":1500,"gl":1550},
{"x":198,"a":3340,"ru":4100,"gu":4200,"rl":1750,"gl":1800},
{"x":199,"a":3260,"ru":3850,"gu":3900,"rl":1850,"gl":1900},
{"x":200,"a":3340,"ru":3779,"gu":3850,"rl":1932,"gl":1950},
{"x":201,"a":3370,"ru":4300,"gu":4700,"rl":2000,"gl":1950},
{"x":202,"a":3392,"ru":4400,"gu":5325,"rl":2050,"gl":2100},
{"x":203,"a":3370,"ru":4300,"gu":4400,"rl":2100,"gl":2050},
{"x":204,"a":3320,"ru":4250,"gu":4300,"rl":2200,"gl":2150},
{"x":205,"a":3280,"ru":4423,"gu":4400,"rl":2276,"gl":2250},
{"x":206,"a":3250,"ru":4400,"gu":4350,"rl":2200,"gl":2150},
{"x":207,"a":3150,"ru":4300,"gu":4250,"rl":1932,"gl":2000},
{"x":208,"a":3120,"ru":4200,"gu":4150,"rl":2250,"gl":2200},
{"x":209,"a":3200,"ru":4100,"gu":4050,"rl":2300,"gl":2250},
{"x":210,"a":3180,"ru":3900,"gu":3850,"rl":2361,"gl":2300},
{"x":211,"a":3150,"ru":3736,"gu":3800,"rl":2250,"gl":2200},
{"x":212,"a":3210,"ru":3900,"gu":3950,"rl":2200,"gl":2150},
{"x":213,"a":3237,"ru":4000,"gu":4050,"rl":2276,"gl":2250},
{"x":214,"a":3130,"ru":4150,"gu":4100,"rl":2300,"gl":2280},
{"x":215,"a":3050,"ru":4300,"gu":4250,"rl":2361,"gl":2320},
{"x":216,"a":3010,"ru":4350,"gu":4300,"rl":2662,"gl":2500},
{"x":217,"a":3030,"ru":4724,"gu":4450,"rl":2400,"gl":2350},
{"x":218,"a":3010,"ru":4250,"gu":4100,"rl":2200,"gl":2150},
{"x":219,"a":2880,"ru":4200,"gu":4150,"rl":2018,"gl":2000},
{"x":220,"a":2900,"ru":4150,"gu":4200,"rl":2050,"gl":2100},
{"x":221,"a":2930,"ru":4250,"gu":4300,"rl":2100,"gl":2050},
{"x":222,"a":3050,"ru":4500,"gu":4600,"rl":2050,"gl":2000},
{"x":223,"a":3100,"ru":4700,"gu":4939,"rl":1950,"gl":1932},
{"x":224,"a":3134,"ru":4800,"gu":5150,"rl":2100,"gl":2050},
{"x":225,"a":3110,"ru":4700,"gu":5282,"rl":2200,"gl":2150},
{"x":226,"a":3074,"ru":4400,"gu":4600,"rl":1846,"gl":2000},
{"x":227,"a":3060,"ru":4300,"gu":4200,"rl":2200,"gl":2300},
{"x":228,"a":3090,"ru":4100,"gu":4150,"rl":2400,"gl":2350},
{"x":229,"a":3120,"ru":4200,"gu":4250,"rl":2450,"gl":2500},
{"x":230,"a":3134,"ru":4300,"gu":4200,"rl":2500,"gl":2450},
{"x":231,"a":3030,"ru":4100,"gu":4050,"rl":2600,"gl":2550},
{"x":232,"a":2990,"ru":3736,"gu":3900,"rl":2550,"gl":2500},
{"x":233,"a":2945,"ru":4000,"gu":4100,"rl":2450,"gl":2500},
{"x":234,"a":2910,"ru":4150,"gu":4100,"rl":2500,"gl":2550},
{"x":235,"a":2870,"ru":4100,"gu":4050,"rl":2600,"gl":2550},
{"x":236,"a":2810,"ru":4120,"gu":4150,"rl":2550,"gl":2600},
{"x":237,"a":2760,"ru":4150,"gu":4200,"rl":2600,"gl":2550},
{"x":238,"a":2705,"ru":4100,"gu":4050,"rl":2791,"gl":2700},
{"x":239,"a":2680,"ru":4050,"gu":4100,"rl":2650,"gl":2750},
{"x":240,"a":2662,"ru":4050,"gu":4000,"rl":2400,"gl":2350},
{"x":241,"a":2680,"ru":4100,"gu":4050,"rl":2300,"gl":2250},
{"x":242,"a":2760,"ru":4000,"gu":3950,"rl":2200,"gl":2150},
{"x":243,"a":2791,"ru":3950,"gu":3993,"rl":2250,"gl":2200},
{"x":244,"a":2700,"ru":4050,"gu":4100,"rl":2300,"gl":2250},
{"x":245,"a":2690,"ru":4250,"gu":4400,"rl":2250,"gl":2200},
{"x":246,"a":2705,"ru":4300,"gu":4646,"rl":2200,"gl":2150},
{"x":247,"a":2640,"ru":4100,"gu":4050,"rl":2100,"gl":2000},
{"x":248,"a":2620,"ru":3950,"gu":3900,"rl":2300,"gl":2150},
{"x":249,"a":2640,"ru":3900,"gu":3850,"rl":2150,"gl":2100},
{"x":250,"a":2600,"ru":3950,"gu":3900,"rl":2250,"gl":2200},
{"x":251,"a":2576,"ru":3822,"gu":3850,"rl":2200,"gl":2150},
{"x":252,"a":2619,"ru":3780,"gu":3800,"rl":2061,"gl":2000}
],
"p3": [
{"x":1,"a":2703,"ru":3847,"gu":4075,"rl":2377,"gl":2547},
{"x":2,"a":2722,"ru":3978,"gu":3993,"rl":2304,"gl":2216},
{"x":3,"a":2615,"ru":4114,"gu":4236,"rl":2216,"gl":2060},
{"x":4,"a":2586,"ru":3929,"gu":3920,"rl":2304,"gl":2070},
{"x":5,"a":2640,"ru":3968,"gu":3895,"rl":2060,"gl":1866},
{"x":6,"a":2567,"ru":3905,"gu":3774,"rl":2168,"gl":2094},
{"x":7,"a":2469,"ru":3958,"gu":3603,"rl":1778,"gl":1827},
{"x":8,"ru":4187,"gu":3900,"rl":2343,"gl":2128},
{"x":9,"ru":4066,"gu":3920,"rl":2216,"gl":2080},
{"x":10,"ru":4139,"gu":4406,"rl":2216,"gl":2192},
{"x":11,"ru":3993,"gu":3950,"rl":2128,"gl":2021},
{"x":12,"ru":4007,"gu":3676,"rl":2000,"gl":1875},
{"x":13,"ru":3788,"gu":3603,"rl":1948,"gl":1657},
{"x":14,"ru":3822,"gu":3627,"rl":1948,"gl":1754},
{"x":15,"ru":3847,"gu":3861,"rl":1802,"gl":1705},
{"x":16,"ru":3764,"gu":3627,"rl":1875,"gl":1851},
{"x":17,"ru":3895,"gu":3920,"rl":1827,"gl":1705},
{"x":18,"ru":4007,"gu":4820,"rl":1608,"gl":1705},
{"x":19,"ru":3482,"gu":3482,"rl":1827,"gl":1827},
{"x":20,"ru":3749,"gu":3749,"rl":1681,"gl":1827},
{"x":21,"ru":3676,"gu":3627,"rl":1729,"gl":1754},
{"x":22,"ru":3360,"gu":3190,"rl":1934,"gl":1632},
{"x":23,"ru":3554,"gu":3263,"rl":1973,"gl":1924},
{"x":24,"ru":3603,"gu":3895,"rl":1705,"gl":1729},
{"x":25,"ru":3506,"gu":3506,"rl":1778,"gl":1924},
{"x":26,"ru":3652,"gu":3506,"rl":1754,"gl":1827},
{"x":27,"ru":3420,"gu":3335,"rl":1795,"gl":1815},
{"x":28,"ru":3569,"gu":3530,"rl":1583,"gl":1657},
{"x":29,"ru":3520,"gu":3520,"rl":1875,"gl":1875},
{"x":30,"ru":3433,"gu":3457,"rl":1705,"gl":1510},
{"x":31,"ru":3360,"gu":3335,"rl":1827,"gl":1778},
{"x":32,"ru":3311,"gu":3190,"rl":1885,"gl":1851},
{"x":33,"ru":3555,"gu":3725,"rl":1851,"gl":1900},
{"x":34,"ru":3579,"gu":3822,"rl":1924,"gl":1997},
{"x":35,"ru":3482,"gu":3394,"rl":1948,"gl":1948},
{"x":36,"ru":3725,"gu":3725,"rl":1729,"gl":1729},
{"x":37,"ru":3287,"gu":3141,"rl":1997,"gl":1900},
{"x":38,"ru":3384,"gu":3335,"rl":1875,"gl":1778},
{"x":39,"ru":3968,"gu":4577,"rl":1364,"gl":1544}
]
},
"vconcat": [
{
  "width": 784, "height": 286,
  "title": {"text": "predictions in year 2001"},
  "data": {"name": "p1"},
  "transform": [{"fold": ["a","ru","rl","gu","gl"], "as": ["s","v"]}],
  "layer": [
    {"mark": {"type": "line", "strokeWidth": 1},
     "encoding": {
       "x": {"field": "x", "type": "quantitative", "scale": {"domain": [-9.96, 259.27], "nice": false, "zero": false},
             "axis": {"orient": "bottom", "values": [0,50,100,150,200,250], "format": "d", "labelPadding": 13, "labelFlush": false, "labelOverlap": false, "title": null}},
       "y": {"field": "v", "type": "quantitative", "scale": {"domain": [2071, 9731], "nice": false, "zero": false},
             "axis": {"values": [3000,4000,5000,6000,7000,8000,9000], "format": "d", "labelExpr": "datum.value % 2000 == 1000 ? datum.label : ''", "labelAngle": 270, "labelAlign": "center", "labelBaseline": "middle", "labelPadding": 16, "labelFlush": false, "labelOverlap": false, "title": null}},
       "color": {"field": "s", "type": "nominal", "scale": {"domain": ["a","ru","rl","gu","gl"], "range": ["#000000","#ff0000","#ff0000","#00ff00","#00ff00"]}, "legend": null},
       "strokeDash": {"field": "s", "type": "nominal", "scale": {"domain": ["a","ru","rl","gu","gl"], "range": [[1,0],[4,4],[4,4],[4,4],[4,4]]}, "legend": null}
     }},
    {"mark": {"type": "line", "opacity": 0},
     "encoding": {
       "x": {"field": "x", "type": "quantitative", "axis": {"orient": "top", "labels": false, "ticks": false, "domain": true, "title": null}},
       "y": {"field": "v", "type": "quantitative"}
     }}
  ],
  "resolve": {"axis": {"x": "independent"}}
},
{
  "width": 784, "height": 286,
  "title": {"text": "predictions in year 2002"},
  "data": {"name": "p2"},
  "transform": [{"fold": ["a","ru","rl","gu","gl"], "as": ["s","v"]}],
  "layer": [
    {"mark": {"type": "line", "strokeWidth": 1},
     "encoding": {
       "x": {"field": "x", "type": "quantitative", "scale": {"domain": [-10, 260.25], "nice": false, "zero": false},
             "axis": {"orient": "bottom", "values": [0,50,100,150,200,250], "format": "d", "labelPadding": 13, "labelFlush": false, "labelOverlap": false, "title": null}},
       "y": {"field": "v", "type": "quantitative", "scale": {"domain": [570, 7928], "nice": false, "zero": false},
             "axis": {"values": [1000,2000,3000,4000,5000,6000,7000], "format": "d", "labelExpr": "datum.value % 2000 == 1000 ? datum.label : ''", "labelAngle": 270, "labelAlign": "center", "labelBaseline": "middle", "labelPadding": 16, "labelFlush": false, "labelOverlap": false, "title": null}},
       "color": {"field": "s", "type": "nominal", "scale": {"domain": ["a","ru","rl","gu","gl"], "range": ["#000000","#ff0000","#ff0000","#00ff00","#00ff00"]}, "legend": null},
       "strokeDash": {"field": "s", "type": "nominal", "scale": {"domain": ["a","ru","rl","gu","gl"], "range": [[1,0],[4,4],[4,4],[4,4],[4,4]]}, "legend": null}
     }},
    {"mark": {"type": "line", "opacity": 0},
     "encoding": {
       "x": {"field": "x", "type": "quantitative", "axis": {"orient": "top", "labels": false, "ticks": false, "domain": true, "title": null}},
       "y": {"field": "v", "type": "quantitative"}
     }}
  ],
  "resolve": {"axis": {"x": "independent"}}
},
{
  "width": 784, "height": 286,
  "title": {"text": "predictions in year 2003"},
  "data": {"name": "p3"},
  "transform": [{"fold": ["a","ru","rl","gu","gl"], "as": ["s","v"]}],
  "layer": [
    {"mark": {"type": "line", "strokeWidth": 1},
     "encoding": {
       "x": {"field": "x", "type": "quantitative", "scale": {"domain": [-1.58, 41.12], "nice": false, "zero": false},
             "axis": {"orient": "bottom", "values": [0,10,20,30,40], "format": "d", "labelPadding": 13, "labelFlush": false, "labelOverlap": false, "title": null}},
       "y": {"field": "v", "type": "quantitative", "scale": {"domain": [977, 5152], "nice": false, "zero": false},
             "axis": {"values": [1000,2000,3000,4000,5000], "format": "d", "labelAngle": 270, "labelAlign": "center", "labelBaseline": "middle", "labelPadding": 16, "labelFlush": false, "labelOverlap": false, "title": null}},
       "color": {"field": "s", "type": "nominal", "scale": {"domain": ["a","ru","rl","gu","gl"], "range": ["#000000","#ff0000","#ff0000","#00ff00","#00ff00"]}, "legend": null},
       "strokeDash": {"field": "s", "type": "nominal", "scale": {"domain": ["a","ru","rl","gu","gl"], "range": [[1,0],[4,4],[4,4],[4,4],[4,4]]}, "legend": null}
     }},
    {"mark": {"type": "line", "opacity": 0},
     "encoding": {
       "x": {"field": "x", "type": "quantitative", "axis": {"orient": "top", "labels": false, "ticks": false, "domain": true, "title": null}},
       "y": {"field": "v", "type": "quantitative"}
     }}
  ],
  "resolve": {"axis": {"x": "independent"}}
}
]
}
